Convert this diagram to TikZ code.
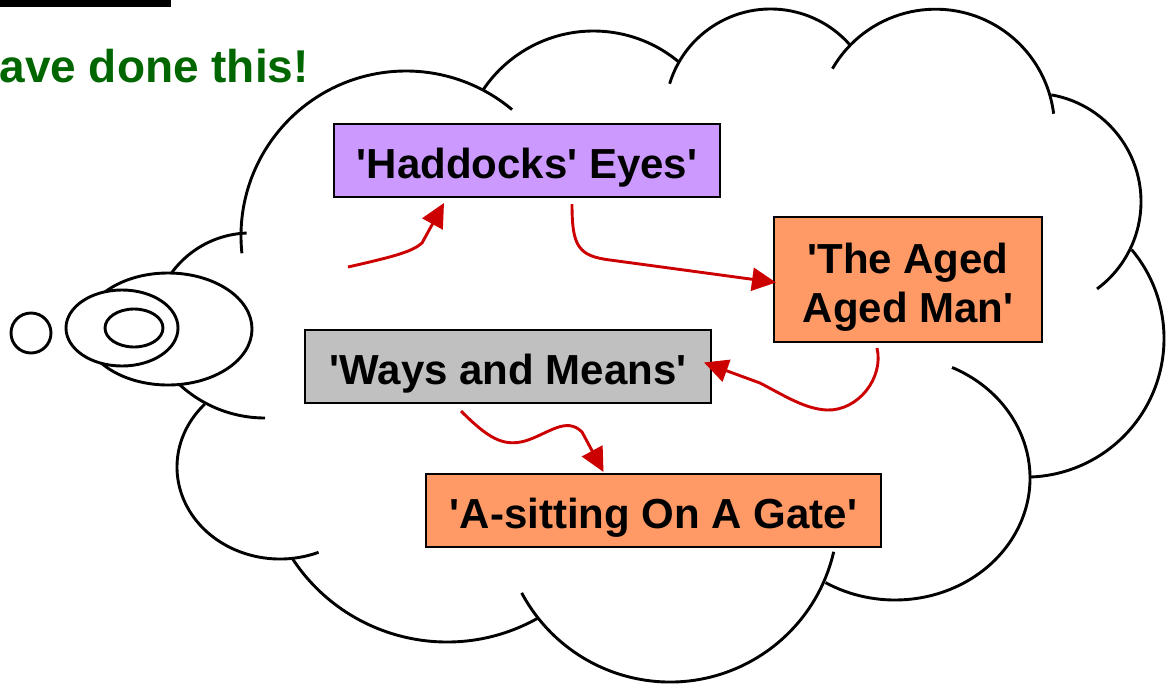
\documentclass[tikz,border=0pt]{standalone}
\usepackage{fontspec}
\setmainfont{Liberation Sans}[Ligatures=TeXOff]
\usetikzlibrary{arrows.meta,calc}
\definecolor{lav}{HTML}{CC99FF}
\definecolor{org}{HTML}{FF9966}
\definecolor{gry}{HTML}{C0C0C0}
\definecolor{arrred}{HTML}{CC0000}
\definecolor{dgreen}{HTML}{006600}
\newcommand\cloudarc[5]{\draw[cloudline] (#1,#2) ++(#3:#5) arc[start angle=#3,end angle=#4,radius=#5];}
\newcommand\cloudearc[6]{\draw[cloudline] (#1,#2) ++(#3:#5 and #6) arc[start angle=#3,end angle=#4,x radius=#5,y radius=#6];}
\tikzset{
  cloudline/.style={line width=2.9pt, black},
  bubble/.style={line width=2.9pt, draw=black, fill=white},
  songbox/.style={draw=black, line width=2pt, inner sep=0pt, font=\fontsize{42}{49}\selectfont\bfseries, text height=35pt, text depth=0pt},
  flow/.style={draw=arrred, line width=2.9pt, -{Triangle[length=24pt,width=23pt]}},
}
\begin{document}
\begin{tikzpicture}[x=1pt,y=-1pt]
\useasboundingbox (0,0) rectangle (1166,683);
\clip (0,0) rectangle (1166,683);
% top bar and heading fragment
\fill[black] (0,0) rectangle (171,6.5);
\node[anchor=base east, inner sep=0pt, text=dgreen, font=\fontsize{46}{52}\selectfont\bfseries] (head) at (309,82) {ave done this!};
% cloud outline
\cloudarc{250}{330}{210}{268}{97}
\cloudarc{406}{236}{174}{310}{165}
\cloudarc{593.5}{164}{214}{310}{133}
\cloudarc{770.6}{114.6}{197}{319}{105.6}
\cloudarc{935.5}{128.2}{210}{353}{119}
\cloudarc{1032.5}{201.7}{-80}{53.5}{108.5}
\cloudarc{1025.5}{338.6}{-40}{88}{138.5}
\cloudearc{895}{478}{-65}{121}{135}{122}
\cloudarc{670}{514}{13}{152}{168}
\cloudarc{447}{457}{60.5}{147}{185}
\cloudearc{280}{467}{68}{223}{103}{92}
\cloudarc{265}{292}{90}{140}{126}
% thought bubbles
\draw[bubble] (168,329) ellipse[x radius=84, y radius=56];
\draw[bubble] (122,328) ellipse[x radius=56, y radius=38];
\draw[bubble] (134,328) ellipse[x radius=29, y radius=19];
\draw[bubble] (31,333) circle[radius=20];
% boxes
\node[songbox, fill=lav, minimum width=386pt, minimum height=73pt] (hadd) at (527,160.5) {'Haddocks' Eyes'};
\node[songbox, fill=org, minimum width=268pt, minimum height=125pt, text height=35pt, text depth=48pt] (aged) at (908,279.5) {\begin{tabular}[t]{@{}c@{}}'The Aged\\Aged Man'\end{tabular}};
\node[songbox, fill=gry, minimum width=406pt, minimum height=73pt] (ways) at (508,366.5) {'Ways and Means'};
\node[songbox, fill=org, minimum width=455pt, minimum height=73pt] (sit) at (653.5,510.5) {'A-sitting On A Gate'};
% connectors
\coordinate (start) at (348,267);
\draw[flow] (start) .. controls (392,257) and (412,252) .. (422,243) -- ($(hadd.south west)+(111,5)$);
\draw[flow] ($(hadd.south)+(45,6)$) .. controls (572,246) and (578,256) .. (610,260) -- ($(aged.west)+(3,3)$);
\draw[flow] ($(aged.south)+(-31,5)$) .. controls (884,378) and (858,411) .. (827,410) .. controls (805,409) and (785,396) .. (760,383) -- ($(ways.east)+(-8,-4)$);
\draw[flow] ($(ways.south)+(-47,7)$) .. controls (488,438) and (503,447) .. (525,441) .. controls (548,434) and (566,416) .. (582,432) -- ($(sit.north)+(-50,-1)$);
\end{tikzpicture}
\end{document}
